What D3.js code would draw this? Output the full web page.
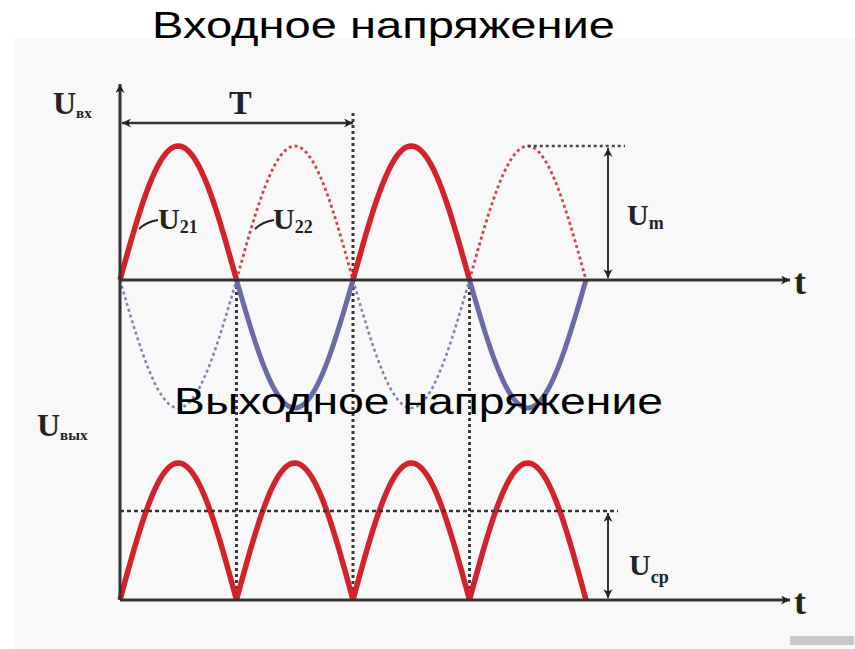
<!DOCTYPE html>
<html>
<head>
<meta charset="utf-8">
<script src="https://cdn.jsdelivr.net/npm/d3@7"></script>
<style>
  body { margin: 0; background: #fff; }
  svg text { font-family: "Liberation Serif", "DejaVu Serif", serif; font-weight: bold; fill: #222; }
  svg text.title { font-family: "Liberation Sans", Arial, sans-serif; font-weight: normal; fill: #000; }
</style>
</head>
<body>
<script>
// half periods of the input wave (index of each half period)
let halfPeriods = [0, 1, 2, 3];
let u21Halves = [0, 2];      // U21 positive half, solid red
let u22Halves = [1, 3];      // U22 positive half, dashed red
let negSolidHalves = [1, 3]; // negative half passed by the diode, solid blue
let negDotHalves = [0, 2];   // negative half, dotted blue
let dividers = [1, 2, 3];    // vertical dotted lines at the zero crossings
let Um = 1;
let Ucp = 0.65;
let periodT = 2;             // T = two half periods

let width = 855, height = 649;

let svg = d3.select('body').append('svg')
    .attr('width', width)
    .attr('height', height);

// light gray picture panel
svg.append('rect')
    .attr('x', 14).attr('y', 39)
    .attr('width', width - 14).attr('height', height - 39)
    .attr('fill', '#f8f8f8');

let x = d3.scaleLinear().domain([0, 4]).range([120, 586]);
let yIn = d3.scaleLinear().domain([-1, 0, 1]).range([408, 280, 146]);
let yOut = d3.scaleLinear().domain([0, 1]).range([600, 463]);

let defs = svg.append('defs');
defs.append('marker')
    .attr('id', 'arr')
    .attr('viewBox', '0 0 10 10')
    .attr('refX', 10).attr('refY', 5)
    .attr('markerWidth', 14).attr('markerHeight', 9)
    .attr('markerUnits', 'userSpaceOnUse')
    .attr('orient', 'auto-start-reverse')
    .append('path').attr('d', 'M0,0 L10,5 L0,10 L3,5 Z').attr('fill', '#222');

// one half sine wave on half period k
let halfWave = function (k, sign, yScale) {
    let pts = d3.range(0, 1.0001, 0.02).map(f => [k + f, sign * Math.sin(Math.PI * f)]);
    return d3.line().x(d => x(d[0])).y(d => yScale(d[1]))(pts);
};

// vertical dotted lines
svg.selectAll('line.div').data(dividers).enter().append('line')
    .attr('x1', d => x(d)).attr('x2', d => x(d))
    .attr('y1', d => d === periodT ? 113 : yIn(0))
    .attr('y2', yOut(0))
    .attr('stroke', '#3a3a3a').attr('stroke-width', 3)
    .attr('stroke-dasharray', '3,3');

// dotted blue negative halves
svg.selectAll('path.negdot').data(negDotHalves).enter().append('path')
    .attr('d', d => halfWave(d, -1, yIn))
    .attr('fill', 'none').attr('stroke', '#8282aa').attr('stroke-width', 2.6)
    .attr('stroke-dasharray', '3,3');

// solid blue negative halves
svg.selectAll('path.negsolid').data(negSolidHalves).enter().append('path')
    .attr('d', d => halfWave(d, -1, yIn))
    .attr('fill', 'none').attr('stroke', '#6a6aa6').attr('stroke-width', 5);

// dashed red U22
svg.selectAll('path.u22').data(u22Halves).enter().append('path')
    .attr('d', d => halfWave(d, Um, yIn))
    .attr('fill', 'none').attr('stroke', '#d4434b').attr('stroke-width', 2.8)
    .attr('stroke-dasharray', '3,3');

// solid red U21
svg.selectAll('path.u21').data(u21Halves).enter().append('path')
    .attr('d', d => halfWave(d, Um, yIn))
    .attr('fill', 'none').attr('stroke', '#d2222c').attr('stroke-width', 5.5);

// rectified output
svg.selectAll('path.out').data(halfPeriods).enter().append('path')
    .attr('d', d => halfWave(d, Um, yOut))
    .attr('fill', 'none').attr('stroke', '#d2222c').attr('stroke-width', 5.5);

// Um and Ucp dashed levels
svg.append('line')
    .attr('x1', x(3.5)).attr('x2', 625)
    .attr('y1', yIn(Um)).attr('y2', yIn(Um))
    .attr('stroke', '#444').attr('stroke-width', 2.5).attr('stroke-dasharray', '3,3');
svg.append('line')
    .attr('x1', x(0)).attr('x2', 618)
    .attr('y1', yOut(Ucp)).attr('y2', yOut(Ucp))
    .attr('stroke', '#333').attr('stroke-width', 2.5).attr('stroke-dasharray', '4,3');

// axes
let axis = (x1, y1, x2, y2, w) => svg.append('line')
    .attr('x1', x1).attr('y1', y1).attr('x2', x2).attr('y2', y2)
    .attr('stroke', '#333').attr('stroke-width', w || 3);

axis(x(0), yOut(0), x(0), 84).attr('marker-end', 'url(#arr)');
axis(x(0), yIn(0), 790, yIn(0)).attr('marker-end', 'url(#arr)');
axis(x(0), yOut(0), 790, yOut(0)).attr('marker-end', 'url(#arr)');

// T arrow
axis(x(0) + 2, 123, x(periodT), 123, 2.5)
    .attr('marker-start', 'url(#arr)').attr('marker-end', 'url(#arr)');
// Um arrow
axis(608, yIn(Um) + 2, 608, yIn(0) - 2, 2)
    .attr('marker-start', 'url(#arr)').attr('marker-end', 'url(#arr)');
// Ucp arrow
axis(608, yOut(Ucp) + 2, 608, yOut(0) - 2, 2)
    .attr('marker-start', 'url(#arr)').attr('marker-end', 'url(#arr)');

// leader lines for U21 / U22
svg.append('path').attr('d', 'M139,229 Q146,222 158,220')
    .attr('fill', 'none').attr('stroke', '#222').attr('stroke-width', 2);
svg.append('path').attr('d', 'M255,229 Q262,222 274,220')
    .attr('fill', 'none').attr('stroke', '#222').attr('stroke-width', 2);

// labels with subscripts
let label = function (px, py, main, sub, size, subSize, subDy) {
    let t = svg.append('text').attr('x', px).attr('y', py).style('font-size', size + 'px');
    t.append('tspan').text(main);
    if (sub) t.append('tspan').attr('dy', subDy || 4).style('font-size', subSize + 'px').text(sub);
    return t;
};
label(53, 114, 'U', 'вх', 32, 15);
label(37, 436, 'U', 'вых', 32, 15);
label(229, 114, 'T', null, 34);
label(158, 229, 'U', '21', 30, 18);
label(273, 229, 'U', '22', 30, 18);
label(627, 225, 'U', 'm', 30, 18);
label(629, 575, 'U', 'ср', 30, 18, 8);
label(794, 294, 't', null, 36);
label(794, 614, 't', null, 36);

// titles
svg.append('text').attr('class', 'title')
    .attr('x', 152).attr('y', 38).style('font-size', '36px')
    .attr('textLength', 463).attr('lengthAdjust', 'spacingAndGlyphs')
    .text('Входное напряжение');
svg.append('text').attr('class', 'title')
    .attr('x', 174).attr('y', 414).style('font-size', '36px')
    .attr('textLength', 489).attr('lengthAdjust', 'spacingAndGlyphs')
    .text('Выходное напряжение');

// stock watermark strip
svg.append('rect').attr('x', 790).attr('y', 636).attr('width', 64).attr('height', 9).attr('fill', '#c8c8c8');
</script>
</body>
</html>
